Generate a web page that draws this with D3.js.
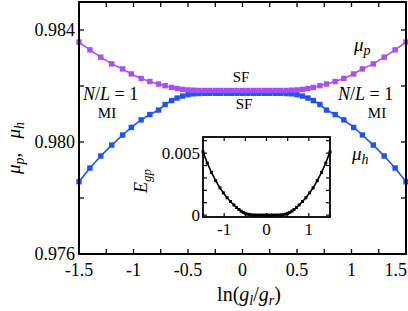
<!DOCTYPE html>
<html>
<head>
<meta charset="utf-8">
<script src="https://cdn.jsdelivr.net/npm/d3@7"></script>
<style>
  body { margin: 0; background: #fff; }
  svg text { font-family: "Liberation Serif", "DejaVu Serif", serif; fill: #000; }
</style>
</head>
<body>
<div class="chart"></div>
<script>
// data
const lnRatio = [-1.50, -1.40, -1.30, -1.20, -1.10, -1.02, -0.93, -0.85, -0.77, -0.71, -0.65, -0.60, -0.55, -0.50,
    -0.45, -0.40, -0.35, -0.30, -0.25, -0.20, -0.15, -0.10, -0.05, 0.00, 0.05, 0.10, 0.15, 0.20, 0.25, 0.30, 0.35,
    0.40, 0.45, 0.50, 0.55, 0.60, 0.65, 0.71, 0.77, 0.85, 0.93, 1.02, 1.10, 1.20, 1.30, 1.40, 1.50];

const muP = [0.98357, 0.98329, 0.98303, 0.98279, 0.98261, 0.98243, 0.98227, 0.98216, 0.98207, 0.98201, 0.98195, 0.98191, 0.98188, 0.98186,
    0.98185, 0.98184, 0.98184, 0.98184, 0.98184, 0.98184, 0.98184, 0.98184, 0.98184, 0.98184, 0.98184, 0.98184, 0.98184, 0.98184, 0.98184, 0.98184, 0.98184,
    0.98184, 0.98185, 0.98186, 0.98188, 0.98191, 0.98195, 0.98201, 0.98207, 0.98216, 0.98227, 0.98243, 0.98261, 0.98279, 0.98303, 0.98329, 0.98357];

const muH = [0.97858, 0.97907, 0.97950, 0.97989, 0.98025, 0.98052, 0.98079, 0.98098, 0.98114, 0.98134, 0.98148, 0.98157, 0.98164, 0.98169,
    0.98172, 0.98173, 0.98174, 0.98174, 0.98174, 0.98174, 0.98174, 0.98174, 0.98174, 0.98174, 0.98174, 0.98174, 0.98174, 0.98174, 0.98174, 0.98174, 0.98174,
    0.98173, 0.98172, 0.98169, 0.98164, 0.98157, 0.98148, 0.98134, 0.98114, 0.98098, 0.98079, 0.98052, 0.98025, 0.97989, 0.97950, 0.97907, 0.97858];

const gapE = [0.00510, 0.00420, 0.00345, 0.00278, 0.00220, 0.00180, 0.00140, 0.00110, 0.00082, 0.00062, 0.00045, 0.00032, 0.00022, 0.00014,
    0.00008, 0.00004, 0.00002, 0.00001, 0.00000, 0.00000, 0.00000, 0.00000, 0.00000, 0.00000, 0.00000, 0.00000, 0.00000, 0.00000, 0.00000, 0.00001, 0.00002,
    0.00004, 0.00008, 0.00014, 0.00022, 0.00032, 0.00045, 0.00062, 0.00082, 0.00110, 0.00140, 0.00180, 0.00220, 0.00278, 0.00345, 0.00420, 0.00510];

const xTicks = [-1.5, -1, -0.5, 0, 0.5, 1, 1.5];
const xTickLabels = ["-1.5", "-1", "-0.5", "0", "0.5", "1", "1.5"];
const yTicks = [0.976, 0.980, 0.984];
const insetXTicks = [-1, 0, 1];
const insetYTicks = [0, 0.005];

const purple = "#a64ff2";
const blue = "#2152f4";

// main plot area
const margin = {top: 2, right: 2, bottom: 57, left: 79};
const W = 408, H = 311;
const width = W - margin.left - margin.right;
const height = H - margin.top - margin.bottom;

let svg = d3.select(".chart")
    .append("svg")
    .attr("width", W)
    .attr("height", H);

let g = svg.append("g")
    .attr("transform", "translate(" + margin.left + "," + margin.top + ")");

let xScale = d3.scaleLinear().domain([-1.5, 1.5]).range([0, width]);
let yScale = d3.scaleLinear().domain([0.976, 0.985]).range([height, 0]);

// inward ticks on all four sides
function ticksInward(sel, scale, vals, len, side) {
    vals.forEach(v => {
        let p = scale(v);
        if (side === "bottom") sel.append("line").attr("x1", p).attr("x2", p).attr("y1", height).attr("y2", height - len);
        if (side === "top") sel.append("line").attr("x1", p).attr("x2", p).attr("y1", 0).attr("y2", len);
        if (side === "left") sel.append("line").attr("y1", p).attr("y2", p).attr("x1", 0).attr("x2", len);
        if (side === "right") sel.append("line").attr("y1", p).attr("y2", p).attr("x1", width).attr("x2", width - len);
    });
}

let tk = g.append("g").attr("stroke", "#000").attr("stroke-width", 1.3);
let xMinor = d3.range(-1.5, 1.51, 0.25);
let yMinor = d3.range(0.976, 0.9851, 0.002);
ticksInward(tk, xScale, xMinor, 5, "bottom");
ticksInward(tk, xScale, xMinor, 5, "top");
ticksInward(tk, yScale, yMinor, 5, "left");
ticksInward(tk, yScale, yMinor, 5, "right");

// curves
let line = (ys) => d3.line().x((d, i) => xScale(lnRatio[i])).y(d => yScale(d))(ys);

let plot = g.append("g");
plot.append("path").attr("d", line(muH)).attr("fill", "none").attr("stroke", blue).attr("stroke-width", 1.6);
plot.selectAll(".mh").data(muH).enter().append("rect")
    .attr("x", (d, i) => xScale(lnRatio[i]) - 2.7)
    .attr("y", d => yScale(d) - 2.7)
    .attr("width", 5.4).attr("height", 5.4)
    .attr("fill", blue);
plot.append("path").attr("d", line(muP)).attr("fill", "none").attr("stroke", purple).attr("stroke-width", 1.6);
plot.selectAll(".mp").data(muP).enter().append("rect")
    .attr("x", (d, i) => xScale(lnRatio[i]) - 2.7)
    .attr("y", d => yScale(d) - 2.7)
    .attr("width", 5.4).attr("height", 5.4)
    .attr("fill", purple);

// frame
g.append("rect").attr("width", width).attr("height", height)
    .attr("fill", "none").attr("stroke", "#000").attr("stroke-width", 2);

// tick labels (last one pulled in so it stays on the page)
g.selectAll(".xl").data(xTicks).enter().append("text")
    .attr("x", (d, i) => i === xTicks.length - 1 ? xScale(d) + 1 : xScale(d))
    .attr("y", height + 22)
    .attr("text-anchor", (d, i) => i === xTicks.length - 1 ? "end" : "middle")
    .attr("font-size", 18)
    .text((d, i) => xTickLabels[i]);

g.selectAll(".yl").data(yTicks).enter().append("text")
    .attr("x", -4)
    .attr("y", d => yScale(d) + 6)
    .attr("text-anchor", "end")
    .attr("font-size", 18)
    .text(d => d3.format(".3f")(d));

// axis titles
let xt = svg.append("text").attr("x", 249).attr("y", 301).attr("text-anchor", "middle").attr("font-size", 20);
xt.append("tspan").text("ln(");
xt.append("tspan").attr("font-style", "italic").text("g");
xt.append("tspan").attr("font-style", "italic").attr("font-size", 14).attr("dy", 4).text("l");
xt.append("tspan").attr("dy", -4).text("/");
xt.append("tspan").attr("font-style", "italic").text("g");
xt.append("tspan").attr("font-style", "italic").attr("font-size", 14).attr("dy", 4).text("r");
xt.append("tspan").attr("dy", -4).text(")");

let yt = svg.append("text").attr("transform", "translate(20,148) rotate(-90)").attr("text-anchor", "middle").attr("font-size", 19);
yt.append("tspan").attr("font-style", "italic").text("μ");
yt.append("tspan").attr("font-style", "italic").attr("font-size", 14).attr("dy", 4).text("p");
yt.append("tspan").attr("dy", -4).text(",\u2002 ");
yt.append("tspan").attr("font-style", "italic").text("μ");
yt.append("tspan").attr("font-style", "italic").attr("font-size", 14).attr("dy", 4).text("h");

// annotations
function nl(x, y) {
    let t = svg.append("text").attr("x", x).attr("y", y).attr("font-size", 18);
    t.append("tspan").attr("font-style", "italic").text("N");
    t.append("tspan").text("/");
    t.append("tspan").attr("font-style", "italic").text("L");
    t.append("tspan").text(" = 1");
}
nl(83, 100);
nl(338, 100);
svg.append("text").attr("x", 107).attr("y", 118).attr("text-anchor", "middle").attr("font-size", 15).text("MI");
svg.append("text").attr("x", 377).attr("y", 118).attr("text-anchor", "middle").attr("font-size", 15).text("MI");
svg.append("text").attr("x", 241).attr("y", 82).attr("text-anchor", "middle").attr("font-size", 15).text("SF");
svg.append("text").attr("x", 244).attr("y", 109).attr("text-anchor", "middle").attr("font-size", 15).text("SF");

function mu(x, y, sub) {
    let t = svg.append("text").attr("x", x).attr("y", y).attr("font-size", 19).attr("font-style", "italic");
    t.append("tspan").text("μ");
    t.append("tspan").attr("font-size", 14).attr("dy", 4).text(sub);
}
mu(354, 51, "p");
mu(352, 160, "h");

// inset
const inset = {x0: 203, x1: 330, y0: 137, y1: 217};
let ix = d3.scaleLinear().domain([-1.5, 1.5]).range([inset.x0, inset.x1]);
let iy = d3.scaleLinear().domain([-0.00015, 0.0063]).range([inset.y1, inset.y0]);

let ins = svg.append("g");
ins.append("rect").attr("x", inset.x0).attr("y", inset.y0)
    .attr("width", inset.x1 - inset.x0).attr("height", inset.y1 - inset.y0)
    .attr("fill", "#fff");

let itk = ins.append("g").attr("stroke", "#000").attr("stroke-width", 1.2);
d3.range(-1.5, 1.51, 0.5).forEach(v => {
    itk.append("line").attr("x1", ix(v)).attr("x2", ix(v)).attr("y1", inset.y1).attr("y2", inset.y1 - 4);
    itk.append("line").attr("x1", ix(v)).attr("x2", ix(v)).attr("y1", inset.y0).attr("y2", inset.y0 + 4);
});
d3.range(0, 0.0061, 0.001).forEach(v => {
    itk.append("line").attr("y1", iy(v)).attr("y2", iy(v)).attr("x1", inset.x0).attr("x2", inset.x0 + 4);
    itk.append("line").attr("y1", iy(v)).attr("y2", iy(v)).attr("x1", inset.x1).attr("x2", inset.x1 - 4);
});

ins.append("path")
    .attr("d", d3.line().x((d, i) => ix(lnRatio[i])).y(d => iy(d))(gapE))
    .attr("fill", "none").attr("stroke", "#000").attr("stroke-width", 1.6);
ins.selectAll(".ge").data(gapE).enter().append("rect")
    .attr("x", (d, i) => ix(lnRatio[i]) - 1.5)
    .attr("y", d => iy(d) - 1.5)
    .attr("width", 3).attr("height", 3).attr("fill", "#000");

ins.append("rect").attr("x", inset.x0).attr("y", inset.y0)
    .attr("width", inset.x1 - inset.x0).attr("height", inset.y1 - inset.y0)
    .attr("fill", "none").attr("stroke", "#000").attr("stroke-width", 1.8);

ins.selectAll(".ixl").data(insetXTicks).enter().append("text")
    .attr("x", d => ix(d)).attr("y", 235)
    .attr("text-anchor", "middle").attr("font-size", 17)
    .text(d => d === -1 ? "-1" : d);
ins.selectAll(".iyl").data(insetYTicks).enter().append("text")
    .attr("x", inset.x0 - 3).attr("y", d => iy(d) + 6)
    .attr("text-anchor", "end").attr("font-size", 17)
    .text(d => d === 0 ? "0" : "0.005");

let et = svg.append("text").attr("transform", "translate(147,181) rotate(-90)").attr("text-anchor", "middle")
    .attr("font-size", 18).attr("font-style", "italic");
et.append("tspan").text("E");
et.append("tspan").attr("font-size", 13).attr("dy", 4).text("gp");
</script>
</body>
</html>
